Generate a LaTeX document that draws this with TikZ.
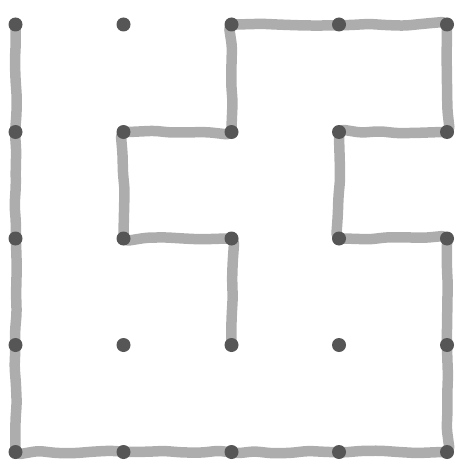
\documentclass[tikz,border=0pt]{standalone}
\usetikzlibrary{decorations.pathmorphing}
\begin{document}
\begin{tikzpicture}[x=1pt,y=-1pt,
  dot/.style={circle,fill=dotgray,inner sep=0pt,minimum size=14pt},
  trail/.style={draw=trailgray,line width=10.5pt,line cap=round,line join=round,
    decorate,decoration={random steps,segment length=18pt,amplitude=1.3pt},rounded corners=5pt}]
\definecolor{dotgray}{HTML}{565656}
\definecolor{trailgray}{HTML}{ADADAD}
\useasboundingbox (0,0) rectangle (460,468);
\pgfmathsetseed{7}
\foreach \i/\x in {0/15.5,1/123.5,2/231.5,3/339,4/447}{
  \foreach \j/\y in {0/24.5,1/132,2/238.5,3/345,4/452}{
    \coordinate (c\i\j) at (\x,\y);
  }
}
\draw[trail] (c00) -- (c04) -- (c44) -- (c42) -- (c32) -- (c31) -- (c41) -- (c40)
  -- (c20) -- (c21) -- (c11) -- (c12) -- (c22) -- (c23);
\foreach \i in {0,...,4}{
  \foreach \j in {0,...,4}{
    \node[dot] (d\i\j) at (c\i\j) {};
  }
}
\end{tikzpicture}
\end{document}
